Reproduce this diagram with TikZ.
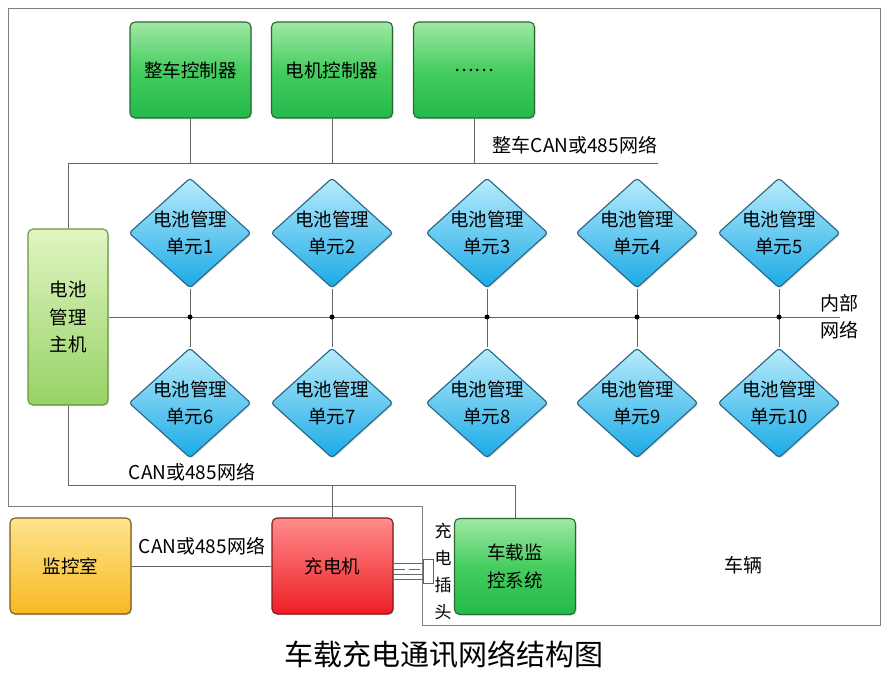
\documentclass[tikz,border=0pt]{standalone}
\usepackage{fontspec}
\setmainfont{Noto Sans CJK SC}
\usetikzlibrary{shapes.geometric,shadows}
\definecolor{lineg}{RGB}{100,100,100}
\definecolor{frameg}{RGB}{128,128,128}
\definecolor{gB}{RGB}{40,105,50}
\definecolor{gT}{RGB}{160,232,165}
\definecolor{gM}{RGB}{70,205,95}
\definecolor{gD}{RGB}{35,185,75}
\definecolor{hB}{RGB}{105,150,60}
\definecolor{hT}{RGB}{225,245,195}
\definecolor{hD}{RGB}{150,210,100}
\definecolor{bB}{RGB}{40,100,130}
\definecolor{bT}{RGB}{185,235,252}
\definecolor{bD}{RGB}{25,170,230}
\definecolor{oB}{RGB}{120,90,30}
\definecolor{oT}{RGB}{253,228,140}
\definecolor{oD}{RGB}{248,185,35}
\definecolor{rB}{RGB}{130,25,25}
\definecolor{rT}{RGB}{255,140,140}
\definecolor{rD}{RGB}{238,30,36}
\tikzset{
  base/.style={rounded corners=5pt, line width=1.1pt, align=center,
    font=\fontsize{18.5}{27.5}\selectfont, inner sep=0pt,
    drop shadow={opacity=0.25,shadow xshift=1.2pt,shadow yshift=-1.2pt}},
  greenbox/.style={base, draw=gB, top color=gT, bottom color=gD, middle color=gM,
    minimum width=121pt, minimum height=96pt},
  hostbox/.style={base, draw=hB, top color=hT, bottom color=hD,
    minimum width=80pt, minimum height=176pt},
  orangebox/.style={base, draw=oB, top color=oT, bottom color=oD,
    minimum width=121pt, minimum height=96pt},
  redbox/.style={base, draw=rB, top color=rT, bottom color=rD,
    minimum width=121pt, minimum height=96pt},
  bmu/.style={diamond, aspect=1.11, rounded corners=3pt, line width=1.1pt,
    draw=bB, top color=bT, bottom color=bD, inner sep=0pt,
    minimum width=122pt, minimum height=110pt,
    drop shadow={opacity=0.25,shadow xshift=1.2pt,shadow yshift=-1.2pt}},
  bmutext/.style={align=center, font=\fontsize{18.5}{27.5}\selectfont, inner sep=0pt},
  conn/.style={draw=lineg, line width=0.8pt},
  lbl/.style={font=\fontsize{19}{27}\selectfont, inner sep=0pt, align=center},
  dot/.style={circle, fill=black, inner sep=0pt, minimum size=5pt},
  plugbox/.style={draw=lineg, line width=0.8pt, fill=white, inner sep=0pt,
    minimum width=10pt, minimum height=24pt}
}
\begin{document}
\begin{tikzpicture}[x=1pt,y=-1pt]
\useasboundingbox[fill=white] (0,0) rectangle (888,682);
% vehicle frame
\draw[frameg, line width=0.8pt] (8,8) -- (880,8) -- (880,625) -- (422,625) -- (422,506) -- (8,506) -- cycle;

% top controllers
\node[greenbox] (vcu) at (190.5,70) {整车控制器};
\node[greenbox] (mcu) at (332,70) {电机控制器};
\node[greenbox] (etc) at (474,70) {……};

% BMS host
\node[hostbox] (host) at (68,317) {电池\\管理\\主机};

% diamonds
\foreach \n/\x/\t in {d1/190/1,d2/332/2,d3/487/3,d4/637/4,d5/779/5}{
  \node[bmu, label={[bmutext]center:电池管理\\单元\t}] (\n) at (\x,233) {};
}
\foreach \n/\x/\t in {d6/190/6,d7/332/7,d8/487/8,d9/637/9,d10/779/10}{
  \node[bmu, label={[bmutext]center:电池管理\\单元\t}] (\n) at (\x,403) {};
}

% bottom boxes
\node[orangebox] (mon) at (70.5,566) {监控室};
\node[redbox] (chg) at (332.5,566) {充电机};
\node[greenbox] (vms) at (515,566.5) {车载监\\控系统};
\node[plugbox] (plug) at (428,571) {};

% vehicle CAN bus
\coordinate (busL) at (68,163);
\coordinate (busR) at (658,163);
\draw[conn] (busL) -- (busR);
\draw[conn] (vcu.south) -- (vcu.south |- busL);
\draw[conn] (mcu.south) -- (mcu.south |- busL);
\draw[conn] (etc.south) -- (etc.south |- busL);
\draw[conn] (busL) -- (host.north);
\node[lbl] (lblbus) at (575,145) {整车CAN或485网络};

% internal network
\coordinate (ibR) at (840,317);
\draw[conn] (host.east) -- (ibR);
\foreach \a/\b in {d1/d6,d2/d7,d3/d8,d4/d9,d5/d10}{
  \draw[conn] (\a.south) -- (\b.north);
  \node[dot] (dot\a) at (\a.south |- host.east) {};
}
\node[lbl] (lblint) at (839,317) {内部\\网络};

% CAN network host - charger - vms
\coordinate (canY) at (0,485);
\draw[conn] (host.south) -- (host.south |- canY) -- (vms.north |- canY) -- (vms.north);
\draw[conn] (chg.north) -- (chg.north |- canY);
\node[lbl] (lblcan1) at (192,472) {CAN或485网络};

% monitoring room link
\draw[conn] (mon.east) -- (chg.west);
\node[lbl] (lblcan2) at (202,546) {CAN或485网络};

% charging cable
\draw[conn] (chg.east |- 0,563) -- (plug.west |- 0,563);
\draw[conn, dash pattern=on 11pt off 4pt] (chg.east |- 0,569) -- (plug.west |- 0,569);
\draw[conn] (chg.east |- 0,574) -- (plug.west |- 0,574);
\draw[conn] (chg.east |- 0,579) -- (plug.west |- 0,579);
\node[lbl, font=\fontsize{17}{27}\selectfont] (lblplug) at (443,571) {充\\电\\插\\头};

% vehicle label
\node[lbl] (lblveh) at (743,565) {车辆};

% title
\node[font=\fontsize{29}{31}\selectfont, inner sep=0pt] (title) at (444,655) {车载充电通讯网络结构图};
\end{tikzpicture}
\end{document}
